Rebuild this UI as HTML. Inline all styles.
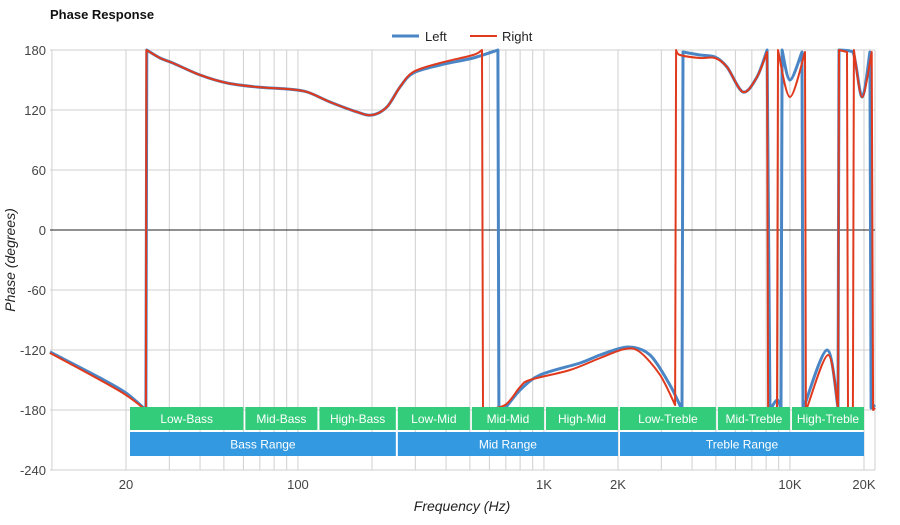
<!DOCTYPE html>
<html><head><meta charset="utf-8"><style>
body{margin:0;background:#fff;font-family:"Liberation Sans",sans-serif}
svg text{font-family:"Liberation Sans",sans-serif}
</style></head><body>
<svg id="chart" width="900" height="520">
<text x="50" y="19" font-size="13" font-weight="bold" fill="#111">Phase Response</text>
<g>
<g><line x1="392" y1="36" x2="419" y2="36" stroke="#4a86c5" stroke-width="3"/><text x="425" y="41" font-size="13" fill="#222">Left</text></g>
<g><line x1="470" y1="36" x2="497" y2="36" stroke="#e03a1e" stroke-width="2"/><text x="502" y="41" font-size="13" fill="#222">Right</text></g>
</g>
<g id="grid"></g>
<g id="series"></g>
<g id="bands"></g>
<g id="axes"></g>
<text x="462" y="511" font-size="14" font-style="italic" text-anchor="middle" fill="#222">Frequency (Hz)</text>
<text transform="translate(15,260) rotate(-90)" font-size="14" font-style="italic" text-anchor="middle" fill="#222">Phase (degrees)</text>
</svg>
<script>
const yTicks=[180,120,60,0,-60,-120,-180,-240];
const xTickVals=[20,100,1000,2000,10000,20000];
const xTickLabels=["20","100","1K","2K","10K","20K"];
const leftSeries=[[9.82,-122],[15.7,-148],[20,-163],[24.1,-180],[24.3,180],[27.5,172],[31,167],[40,155],[51.5,147],[68,143],[90,141],[109,138],[135,128],[174,118],[200,115],[230,123],[260,143],[294,157],[378,165],[515,172],[650,180],[656,-180],[695,-178],[800,-160],[964,-145],[1403,-133],[1692,-125],[2198,-117],[2698,-125],[3252,-155],[3640,-180],[3675,178],[4306,175],[4955,173],[5546,163],[6442,138],[7345,153],[8072,180],[8300,-180],[8860,-170],[9200,-178],[9290,180],[10000,150],[11190,178],[11300,-180],[14150,-120],[15680,-178],[15820,180],[18030,178],[19640,133],[21140,178],[21380,-178],[22190,-175]];
const rightSeries=[[9.82,-123],[15.7,-150],[20,-165],[24.1,-180],[24.2,180],[27.5,172],[31,167],[40,155],[51.5,147],[68,143],[90,141],[109,138],[135,128],[174,118],[200,115],[230,123],[260,143],[294,158],[378,167],[515,175],[560,180],[565,-180],[695,-175],[800,-157],[877,-150],[1276,-140],[1692,-128],[2134,-119],[2455,-122],[2965,-145],[3412,-175],[3444,180],[3573,175],[4306,172],[4955,172],[5546,163],[6442,138],[7345,153],[8072,178],[8147,-180],[8860,-180],[8940,180],[10000,133],[11510,178],[11610,-180],[11720,-178],[14290,-125],[15680,-178],[15820,180],[17060,178],[17220,-180],[18030,-178],[18200,180],[19640,133],[21500,178],[21780,-180],[22190,-178]];
const bandNames=["Low-Bass","Mid-Bass","High-Bass","Low-Mid","Mid-Mid","High-Mid","Low-Treble","Mid-Treble","High-Treble"];
const bandEdges=[20,60,120,250,500,1000,2000,5000,10000,20000];
const rangeNames=["Bass Range","Mid Range","Treble Range"];
const rangeEdges=[20,250,2000,20000];
const NS="http://www.w3.org/2000/svg";
const X0=50,X1=875,Y0=50,Y1=470;
function xs(f){return 126+(Math.log10(f)-Math.log10(20))*246;}
function ys(v){return 230-(v)*1;}
function mk(tag,attrs,parent){const e=document.createElementNS(NS,tag);for(const k in attrs)e.setAttribute(k,attrs[k]);parent.appendChild(e);return e;}
const grid=document.getElementById('grid'),axes=document.getElementById('axes'),ser=document.getElementById('series'),bands=document.getElementById('bands');
for(let d=10;d<=10000;d*=10){for(let m=1;m<=9;m++){const f=d*m;if(f<10||f>22190)continue;const x=xs(f);const l=mk('line',{x1:x,x2:x,y1:Y0,y2:Y1,stroke:'#cfcfcf','stroke-width':1},grid);

}}
{const x=xs(20000);const l=mk('line',{x1:x,x2:x,y1:Y0,y2:Y1,stroke:'#cfcfcf'},grid);

}
{const l=mk('line',{x1:X1,x2:X1,y1:Y0,y2:Y1,stroke:'#cfcfcf'},grid);

}
yTicks.forEach(v=>{const y=ys(v);const l=mk('line',{x1:X0,x2:X1,y1:y,y2:y,stroke:v===0?'#222':'#cfcfcf','stroke-width':1},grid);


const t=mk('text',{x:46,y:y+5,'font-size':13,'text-anchor':'end',fill:'#444'},axes);t.textContent=v;

});
xTickVals.forEach((f,i)=>{const t=mk('text',{x:xs(f),y:489,'font-size':13,'text-anchor':'middle',fill:'#444'},axes);t.textContent=xTickLabels[i];

});
function smoothPath(data){
  const pts=data.map(p=>[xs(p[0]),ys(p[1])]);
  const segs=[];let cur=[pts[0]];
  for(let i=1;i<pts.length;i++){
    if(Math.abs(data[i][1]-data[i-1][1])>200){segs.push(cur);cur=[pts[i]];}else cur.push(pts[i]);
  }
  segs.push(cur);
  let d='';
  segs.forEach((s,si)=>{
    d+=(si?'L':'M')+s[0][0].toFixed(1)+','+s[0][1].toFixed(1);
    for(let i=0;i<s.length-1;i++){
      const p0=s[Math.max(0,i-1)],p1=s[i],p2=s[i+1],p3=s[Math.min(s.length-1,i+2)];
      const t=0.16;
      const c1=[p1[0]+(p2[0]-p0[0])*t,p1[1]+(p2[1]-p0[1])*t];
      const c2=[p2[0]-(p3[0]-p1[0])*t,p2[1]-(p3[1]-p1[1])*t];
      c1[1]=Math.max(Y0,Math.min(410,c1[1]));c2[1]=Math.max(Y0,Math.min(410,c2[1]));
      d+='C'+c1[0].toFixed(1)+','+c1[1].toFixed(1)+' '+c2[0].toFixed(1)+','+c2[1].toFixed(1)+' '+p2[0].toFixed(1)+','+p2[1].toFixed(1);
    }
  });
  return d;
}
function draw(data,color,w,name){
const p=mk('path',{d:smoothPath(data),fill:'none',stroke:color,'stroke-width':w,'stroke-linejoin':'round'},ser);

}
draw(leftSeries,'#4a86c5',3,'left-series-line');
draw(rightSeries,'#e03a1e',2,'right-series-line');
function bandRow(names,edges,y,h,color,nm){names.forEach((n,i)=>{const a=xs(edges[i])+(i?2:4),b=xs(edges[i+1]);const g=mk('g',{},bands);


mk('rect',{x:a,y:y,width:b-a,height:h,fill:color},g);const t=mk('text',{x:(a+b)/2,y:y+h/2+4.5,'font-size':12,'text-anchor':'middle',fill:'#fff'},g);t.textContent=n;});}
bandRow(bandNames,bandEdges,407,23,'#33cc7a','band-segment');
bandRow(rangeNames,rangeEdges,432,24,'#3399e0','range-segment');
</script>
</body></html>
